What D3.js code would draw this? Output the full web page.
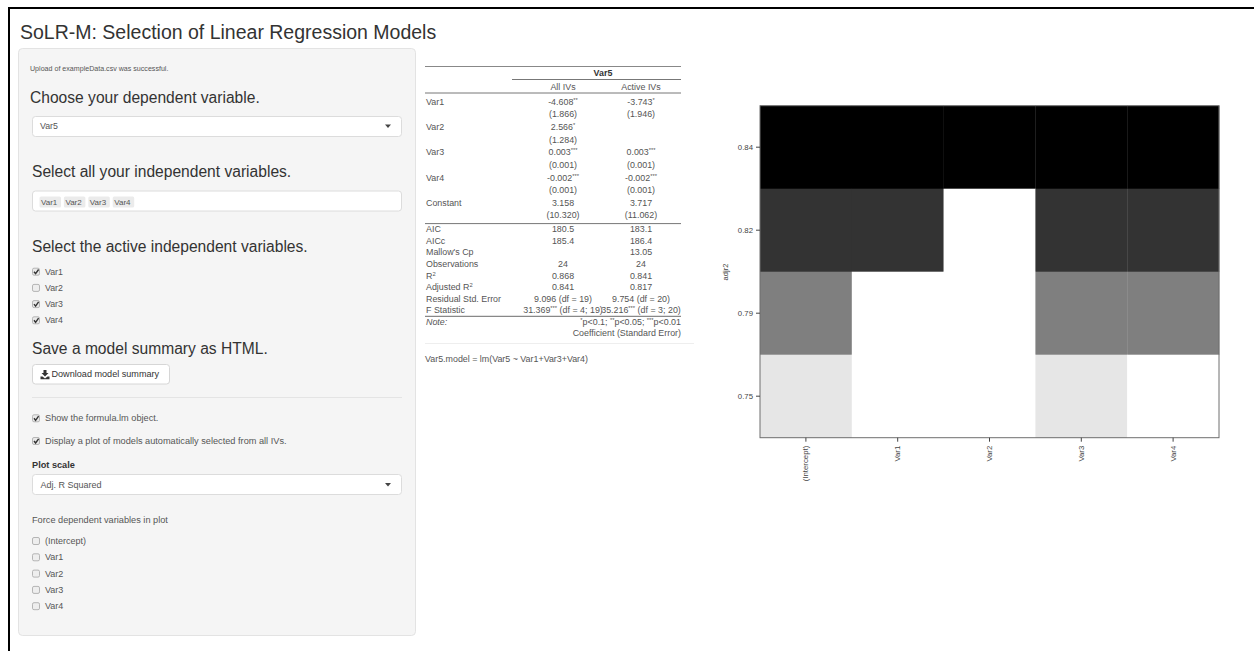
<!DOCTYPE html>
<html>
<head>
<meta charset="utf-8">
<title>SoLR-M: Selection of Linear Regression Models</title>
<script src="https://cdn.jsdelivr.net/npm/d3@7"></script>
<style>
  html, body { margin: 0; padding: 0; background: #fff; }
  svg { display: block; font-family: "Liberation Sans", Arial, Helvetica, sans-serif; }
</style>
</head>
<body>
<svg id="page" width="1254" height="651"></svg>
<script>
// ---------- data ----------
const predictors = ["(Intercept)", "Var1", "Var2", "Var3", "Var4"];
const adjr2Values = [0.84, 0.82, 0.79, 0.75];
const modelTerms = [
  ["(Intercept)", "Var1", "Var2", "Var3", "Var4"],
  ["(Intercept)", "Var1", "Var3", "Var4"],
  ["(Intercept)", "Var3", "Var4"],
  ["(Intercept)", "Var3"]
];

const dependentVar = "Var5";
const independentVars = ["Var1", "Var2", "Var3", "Var4"];
const activeVars = ["Var1", "Var3", "Var4"];
const forceOptions = ["(Intercept)", "Var1", "Var2", "Var3", "Var4"];
const plotScaleChoice = "Adj. R Squared";

const tableColumns = ["All IVs", "Active IVs"];
const coefRows = ["Var1", "Var2", "Var3", "Var4", "Constant"];
const coefAll = ["-4.608**", "2.566*", "0.003***", "-0.002***", "3.158"];
const seAll = ["(1.866)", "(1.284)", "(0.001)", "(0.001)", "(10.320)"];
const coefActive = ["-3.743*", "", "0.003***", "-0.002***", "3.717"];
const seActive = ["(1.946)", "", "(0.001)", "(0.001)", "(11.062)"];
const statRows = ["AIC", "AICc", "Mallow's Cp", "Observations", "R^2", "Adjusted R^2", "Residual Std. Error", "F Statistic"];
const statAll = ["180.5", "185.4", "", "24", "0.868", "0.841", "9.096 (df = 19)", "31.369*** (df = 4; 19)"];
const statActive = ["183.1", "186.4", "13.05", "24", "0.841", "0.817", "9.754 (df = 20)", "35.216*** (df = 3; 20)"];
const noteText = ["*p<0.1; **p<0.05; ***p<0.01", "Coefficient (Standard Error)"];
const formulaText = "Var5.model = lm(Var5 ~ Var1+Var3+Var4)";

// ---------- page ----------
const svg = d3.select("#page");
const TEXT = "#333";
const SOFT = "#555";

// frame
svg.append("line").attr("x1", 8).attr("x2", 1254).attr("y1", 8).attr("y2", 8)
  .attr("stroke", "#000").attr("stroke-width", 2);
svg.append("line").attr("x1", 9).attr("x2", 9).attr("y1", 7).attr("y2", 651)
  .attr("stroke", "#000").attr("stroke-width", 2);

svg.append("text").attr("x", 20).attr("y", 39).attr("font-size", 19.5)
  .attr("fill", TEXT).text("SoLR-M: Selection of Linear Regression Models");

// ---------- sidebar ----------
const side = svg.append("g");
side.append("rect").attr("x", 18.5).attr("y", 48.5).attr("width", 397).attr("height", 587)
  .attr("rx", 4).attr("fill", "#f5f5f5").attr("stroke", "#e3e3e3");

function label(g, x, y, txt, size, color, weight) {
  return g.append("text").attr("x", x).attr("y", y).attr("font-size", size)
    .attr("fill", color).attr("font-weight", weight || "normal").text(txt);
}
function inputBox(g, y, h) {
  g.append("rect").attr("x", 32.5).attr("y", y + 0.5).attr("width", 369).attr("height", h)
    .attr("rx", 3).attr("fill", "#fff").attr("stroke", "#dcdcdc");
}
function caret(g, cx, cy) {
  g.append("path").attr("d", `M${cx - 3},${cy - 1.5}L${cx + 3},${cy - 1.5}L${cx},${cy + 2}Z`).attr("fill", "#444");
}
function checkbox(g, x, cy, checked) {
  g.append("rect").attr("x", x + 0.5).attr("y", cy - 3.5).attr("width", 7).attr("height", 7)
    .attr("rx", 1.5).attr("fill", checked ? "#e9e9e9" : "#eee").attr("stroke", "#b5b5b5");
  if (checked) {
    g.append("path").attr("d", `M${x + 2},${cy}L${x + 3.6},${cy + 2}L${x + 6.6},${cy - 2.2}`)
      .attr("fill", "none").attr("stroke", "#333").attr("stroke-width", 1.4);
  }
}

label(side, 30, 70.5, "Upload of exampleData.csv was successful.", 7.1, SOFT);
label(side, 30, 103, "Choose your dependent variable.", 15.6, TEXT);
inputBox(side, 116, 20);
label(side, 40, 129, dependentVar, 8.8, SOFT);
caret(side, 388, 126);

label(side, 32, 177, "Select all your independent variables.", 15.6, TEXT);
inputBox(side, 190.5, 20);
let tagX = 39.5;
independentVars.forEach(v => {
  const w = 21.5;
  side.append("rect").attr("x", tagX).attr("y", 196.5).attr("width", w).attr("height", 11)
    .attr("rx", 1.5).attr("fill", "#ebebeb");
  label(side, tagX + 1.5, 204.8, v, 8, SOFT);
  tagX += 24.4;
});

label(side, 32, 252, "Select the active independent variables.", 15.6, TEXT);
independentVars.forEach((v, i) => {
  const cy = 271.7 + i * 16.2;
  checkbox(side, 32, cy, activeVars.includes(v));
  label(side, 45, cy + 3, v, 8.8, SOFT);
});

label(side, 32, 353.5, "Save a model summary as HTML.", 15.6, TEXT);
side.append("rect").attr("x", 32.5).attr("y", 364.5).attr("width", 137).attr("height", 19.5)
  .attr("rx", 3).attr("fill", "#fff").attr("stroke", "#d6d6d6");
// download glyph
side.append("path")
  .attr("d", "M43.5,370 h3 v3 h2 l-3.5,3.5 l-3.5,-3.5 h2 z M40.5,376.5 h2 l2.5,2 l2.5,-2 h2 v2.8 h-9 z")
  .attr("fill", "#333");
label(side, 51.5, 377.3, "Download model summary", 9.1, TEXT);

side.append("line").attr("x1", 32).attr("x2", 402).attr("y1", 397.5).attr("y2", 397.5)
  .attr("stroke", "#e4e4e4");

checkbox(side, 32, 418.3, true);
label(side, 45, 421.4, "Show the formula.lm object.", 9.2, SOFT);
checkbox(side, 32, 441, true);
label(side, 45, 444.1, "Display a plot of models automatically selected from all IVs.", 9.2, SOFT);

label(side, 32, 467.5, "Plot scale", 9.2, TEXT, "bold");
inputBox(side, 474, 20);
label(side, 40.5, 487.8, plotScaleChoice, 9, SOFT);
caret(side, 388, 484.5);

label(side, 32, 523.2, "Force dependent variables in plot", 9.2, SOFT);
forceOptions.forEach((v, i) => {
  const cy = 541 + i * 16.3;
  checkbox(side, 32, cy, false);
  label(side, 45, cy + 3.1, v, 9, SOFT);
});

// ---------- regression table ----------
const tab = svg.append("g").attr("font-size", 8.9).attr("fill", SOFT);
const T = { left: 425, right: 681, c1: 563, c2: 641, lab: 426 };

// writes text, turning runs of * into superscripts and ^x into a superscript
function richText(g, x, y, str, anchor) {
  const t = g.append("text").attr("x", x).attr("y", y).attr("text-anchor", anchor || "start");
  const parts = str.split(/(\*+|\^\w)/).filter(s => s.length);
  let raised = false;
  parts.forEach(p => {
    const sup = /^\*+$/.test(p) || p.startsWith("^");
    const txt = p.startsWith("^") ? p.slice(1) : p;
    const ts = t.append("tspan").text(txt);
    if (sup && !raised) { ts.attr("dy", -3).attr("font-size", 5.8); raised = true; }
    else if (sup) { ts.attr("font-size", 5.8); }
    else if (raised) { ts.attr("dy", 3); raised = false; }
  });
  return t;
}
function hline(g, x1, x2, y, color, w) {
  g.append("line").attr("x1", x1).attr("x2", x2).attr("y1", y).attr("y2", y)
    .attr("stroke", color || "#777").attr("stroke-width", w || 1);
}

const coefPitch = 12.65, statPitch = 11.55;
hline(tab, T.left, T.right, 66.5, "#888", 1.2);
tab.append("text").attr("x", (T.c1 + T.c2) / 2 + 1).attr("y", 76.3).attr("text-anchor", "middle")
  .attr("font-weight", "bold").attr("fill", TEXT).text(dependentVar);
hline(tab, 512, T.right, 79.5, "#777");
tableColumns.forEach((c, i) => {
  tab.append("text").attr("x", i ? T.c2 : T.c1).attr("y", 90.2).attr("text-anchor", "middle").text(c);
});
hline(tab, T.left, T.right, 93, "#777");

let yy = 104.6;
coefRows.forEach((r, i) => {
  tab.append("text").attr("x", T.lab).attr("y", yy).text(r);
  richText(tab, T.c1, yy, coefAll[i], "middle");
  richText(tab, T.c2, yy, coefActive[i], "middle");
  yy += coefPitch;
  tab.append("text").attr("x", T.c1).attr("y", yy).attr("text-anchor", "middle").text(seAll[i]);
  tab.append("text").attr("x", T.c2).attr("y", yy).attr("text-anchor", "middle").text(seActive[i]);
  yy += coefPitch;
});
hline(tab, T.left, T.right, yy - 7.5, "#777");
yy += 1.2;
statRows.forEach((r, i) => {
  richText(tab, T.lab, yy, r, "start");
  richText(tab, T.c1, yy, statAll[i], "middle");
  richText(tab, T.c2, yy, statActive[i], "middle");
  yy += statPitch;
});
hline(tab, T.left, T.right, yy - 8.3, "#888", 1.2);
tab.append("text").attr("x", T.lab).attr("y", yy).attr("font-style", "italic").text("Note:");
richText(tab, T.right, yy, noteText[0], "end");
yy += statPitch;
tab.append("text").attr("x", T.right).attr("y", yy).attr("text-anchor", "end").text(noteText[1]);

hline(svg, T.left, 694, 343.5, "#eee");
svg.append("text").attr("x", T.left).attr("y", 362).attr("font-size", 8.9).attr("fill", SOFT)
  .text(formulaText);

// ---------- model selection plot ----------
const plotBox = { left: 760, right: 1219, top: 105.7, bottom: 437.7 };
const rowKeys = adjr2Values.map(v => d3.format(".2f")(v));
const x = d3.scaleBand().domain(predictors).range([plotBox.left, plotBox.right]);
const y = d3.scaleBand().domain(rowKeys).range([plotBox.top, plotBox.bottom]);
// grey level follows adjusted R^2: best model black, weakest light grey
const greyLevel = d3.scaleLinear()
  .domain([d3.max(adjr2Values), d3.min(adjr2Values)]).range([0, 0.9]);
const grey = v => { const c = Math.round(greyLevel(v) * 255); return d3.rgb(c, c, c).formatHex(); };

const cells = [];
adjr2Values.forEach((v, i) => {
  predictors.forEach(p => {
    cells.push({ row: rowKeys[i], term: p, fill: modelTerms[i].includes(p) ? grey(v) : "#fff" });
  });
});

const plot = svg.append("g");
plot.selectAll("rect.cell").data(cells).join("rect").attr("class", "cell")
  .attr("x", d => x(d.term)).attr("y", d => y(d.row))
  .attr("width", x.bandwidth() + 0.3).attr("height", y.bandwidth() + 0.3)
  .attr("fill", d => d.fill);
plot.append("rect").attr("x", plotBox.left).attr("y", plotBox.top)
  .attr("width", plotBox.right - plotBox.left).attr("height", plotBox.bottom - plotBox.top)
  .attr("fill", "none").attr("stroke", "#6e6e6e").attr("stroke-width", 1);

const yAxis = plot.append("g").attr("transform", `translate(${plotBox.left},0)`)
  .call(d3.axisLeft(y).tickSize(4).tickPadding(3));
yAxis.select(".domain").remove();
yAxis.selectAll("line").attr("stroke", "#444");
yAxis.selectAll("text").attr("font-size", 7.8).attr("fill", "#444")
  .attr("font-family", "Liberation Sans, Arial, sans-serif");

const xAxis = plot.append("g").attr("transform", `translate(0,${plotBox.bottom})`)
  .call(d3.axisBottom(x).tickSize(4));
xAxis.select(".domain").remove();
xAxis.selectAll("line").attr("stroke", "#444");
xAxis.selectAll("text").attr("font-size", 7.8).attr("fill", "#444")
  .attr("font-family", "Liberation Sans, Arial, sans-serif")
  .attr("transform", "rotate(-90)").attr("text-anchor", "end")
  .attr("x", -8).attr("y", 0).attr("dy", "0.32em");

plot.append("text").attr("transform", "translate(728,272) rotate(-90)")
  .attr("text-anchor", "middle").attr("font-size", 7.6).attr("fill", "#444").text("adjr2");
</script>
</body>
</html>
